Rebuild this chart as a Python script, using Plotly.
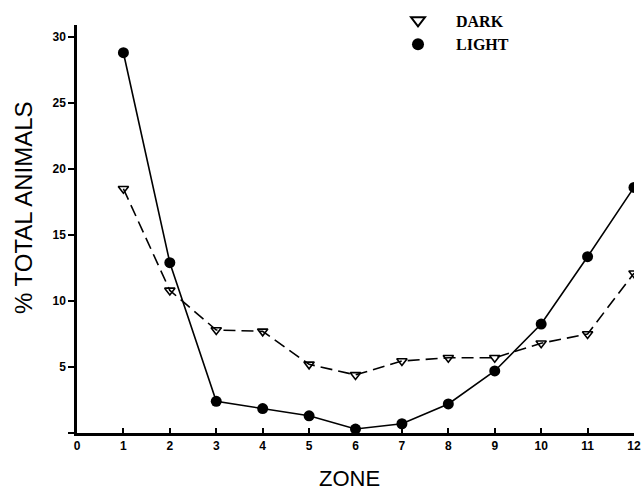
import plotly.graph_objects as go

zones = [1, 2, 3, 4, 5, 6, 7, 8, 9, 10, 11, 12]
dark = [18.5, 10.8, 7.8, 7.7, 5.2, 4.4, 5.45, 5.7, 5.7, 6.8, 7.5, 12.1]
light = [28.8, 12.9, 2.4, 1.85, 1.3, 0.3, 0.7, 2.2, 4.7, 8.25, 13.35, 18.6]
xticks = list(range(0, 13))
yticks = [0, 5, 10, 15, 20, 25, 30]
ytick_text = ["", "5", "10", "15", "20", "25", "30"]

fig = go.Figure()
fig.add_trace(go.Scatter(
    x=zones, y=dark, mode="lines+markers", name="DARK",
    line=dict(color="black", width=1.6, dash="12px,6px"),
    marker=dict(symbol="triangle-down-open", size=9, color="black", line=dict(width=1.6)),
    showlegend=False))
fig.add_trace(go.Scatter(
    x=zones, y=light, mode="lines+markers", name="LIGHT",
    line=dict(color="black", width=1.6),
    marker=dict(symbol="circle", size=11, color="black"),
    showlegend=False))
# legend-only entries (markers only)
fig.add_trace(go.Scatter(
    x=[None], y=[None], mode="markers", name="DARK",
    marker=dict(symbol="triangle-down-open", size=8, color="black", line=dict(width=1.8, color="black"))))
fig.add_trace(go.Scatter(
    x=[None], y=[None], mode="markers", name="LIGHT",
    marker=dict(symbol="circle", size=11, color="black")))

tickfont = dict(family="Liberation Sans", size=12, color="black", weight="bold")

fig.update_layout(
    width=641, height=491,
    margin=dict(l=77, r=7, t=25, b=58, autoexpand=False),
    paper_bgcolor="white", plot_bgcolor="white",
    showlegend=True,
    legend=dict(x=0.544, xanchor="left", y=0.993, yref="container", yanchor="top",
                font=dict(family="Liberation Serif", size=16, color="black", weight="bold"),
                bgcolor="rgba(0,0,0,0)", tracegroupgap=0, itemsizing="constant", itemwidth=66),
    xaxis=dict(range=[0, 12], tickvals=xticks, ticktext=[str(v) for v in xticks],
               showgrid=False, zeroline=False, showline=True, linecolor="black", linewidth=2.5,
               ticks="inside", ticklen=5, tickcolor="black", tickwidth=1.5,
               ticklabeloverflow="allow", tickfont=tickfont),
    yaxis=dict(range=[0, 30.9], tickvals=yticks, ticktext=ytick_text,
               showgrid=False, zeroline=False, showline=True, linecolor="black", linewidth=2.5,
               ticks="outside", ticklen=6, tickcolor="black", tickwidth=1.5,
               tickfont=tickfont),
    annotations=[
        dict(text="ZONE", xref="paper", yref="paper", x=(349 - 77) / 557, y=(433 - 478) / 408,
             xanchor="center", yanchor="middle",
             showarrow=False, font=dict(family="Liberation Sans", size=22, color="black")),
        dict(text="% TOTAL ANIMALS", xref="paper", yref="paper", x=(24 - 77) / 557, y=(433 - 208) / 408,
             xanchor="center", yanchor="middle",
             textangle=-90, showarrow=False, font=dict(family="Liberation Sans", size=24, color="black")),
    ],
)
fig.write_html("out.html")
